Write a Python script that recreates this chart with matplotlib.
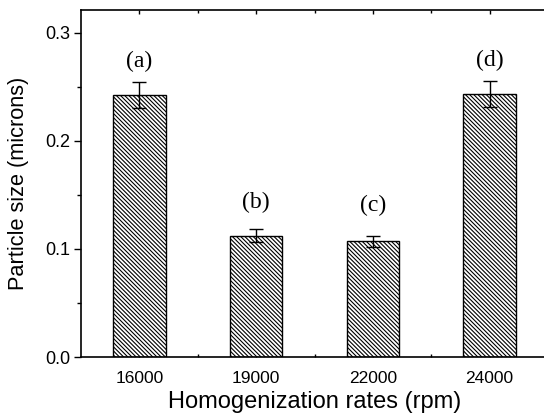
import matplotlib
matplotlib.use("Agg")
import matplotlib.pyplot as plt
import numpy as np

rates = ["16000", "19000", "22000", "24000"]
sizes = [0.242, 0.112, 0.107, 0.243]
errors = [0.012, 0.006, 0.005, 0.012]
letters = ["(a)", "(b)", "(c)", "(d)"]
letter_y = [0.273, 0.143, 0.140, 0.274]

plt.rcParams['hatch.linewidth'] = 0.8
fig = plt.figure(figsize=(5.44, 4.16), dpi=100)
ax = fig.add_axes([81/544, 59/416, 467/544, 347/416])

x = np.arange(1, len(rates) + 1)
ax.bar(x, sizes, width=0.45, color='white', edgecolor='black', linewidth=1.0,
       hatch='\\' * 8, zorder=2)
ax.errorbar(x, sizes, yerr=errors, fmt='none', ecolor='black', elinewidth=1.0,
            capsize=4.8, capthick=1.0, zorder=3)
for xi, lab, ly in zip(x, letters, letter_y):
    ax.text(xi, ly, lab, ha='center', va='center', fontsize=17,
            family='Liberation Serif')

ax.set_xlim(0.5, 4.5)
ax.set_ylim(0, 0.321)
ax.set_xticks(x)
ax.set_xticklabels(rates, fontsize=12.5, family='Liberation Sans')
ax.set_xticks(x[:-1] + 0.5, minor=True)
ax.set_yticks([0.0, 0.1, 0.2, 0.3])
ax.set_yticklabels(["0.0", "0.1", "0.2", "0.3"], fontsize=13, family='Liberation Sans')
ax.set_yticks(np.arange(0.05, 0.32, 0.1), minor=True)

ax.tick_params(axis='y', which='major', direction='out', length=5, width=1, pad=2.5)
ax.tick_params(axis='y', which='minor', direction='out', length=3, width=1)
ax.tick_params(axis='x', which='major', direction='in', length=3, width=1, pad=10,
               top=True)
ax.tick_params(axis='x', which='minor', direction='in', length=2, width=1, top=True)

for s in ['left', 'top', 'bottom']:
    ax.spines[s].set_linewidth(1.2)
ax.spines['right'].set_visible(False)

ax.set_xlabel("Homogenization rates (rpm)", fontsize=17, family='Liberation Sans')
ax.set_ylabel("Particle size (microns)", fontsize=15.7, family='Liberation Sans')
ax.xaxis.label.set_va('center')
ax.yaxis.label.set_va('center')
ax.xaxis.set_label_coords(0.5, -0.131)
ax.yaxis.set_label_coords(-0.133, 0.5)

fig.savefig("out.png", dpi=100)
